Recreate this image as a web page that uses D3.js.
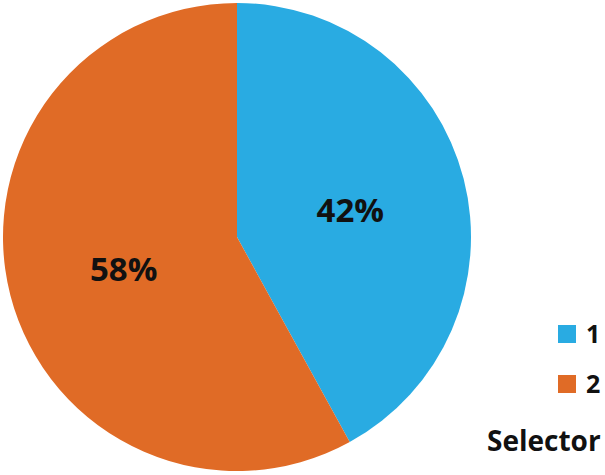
<!DOCTYPE html>
<html>
<head>
<meta charset="utf-8">
<script src="https://cdn.jsdelivr.net/npm/d3@7"></script>
<style>
  body { margin: 0; background: #fff; }
  text { font-family: "Open Sans", "DejaVu Sans", sans-serif; font-weight: bold; fill: #111; }
</style>
</head>
<body>
<svg id="chart" width="605" height="475"></svg>
<script>
// slice data
var categories = ["1", "2"];
var shares = [42, 58];
var colors = ["#29ABE2", "#E06B26"];
var legendTitle = "Selector";

var svg = d3.select("#chart");
var cx = 237, cy = 237, radius = 234;

var pie = d3.pie().sort(null).value(function(d) { return d; });
var arc = d3.arc().innerRadius(0).outerRadius(radius);
var color = d3.scaleOrdinal().domain(categories).range(colors);

var g = svg.append("g").attr("transform", "translate(" + cx + "," + cy + ")");
var slices = pie(shares);

g.selectAll("path")
    .data(slices)
    .enter().append("path")
    .attr("d", arc)
    .attr("fill", function(d, i) { return color(categories[i]); });

g.selectAll("text.pct")
    .data(slices)
    .enter().append("text")
    .attr("class", "pct")
    .attr("transform", function(d) {
        var c = arc.centroid(d);
        return "translate(" + c[0] + "," + (c[1] + 3) + ")";
    })
    .attr("text-anchor", "middle")
    .attr("dy", "0.35em")
    .style("font-size", "33px")
    .text(function(d) { return d.value + "%"; });

// legend
var legend = svg.append("g");
var rows = legend.selectAll("g")
    .data(categories)
    .enter().append("g")
    .attr("transform", function(d, i) { return "translate(558," + (325 + i * 50) + ")"; });

rows.append("rect")
    .attr("width", 18)
    .attr("height", 18)
    .attr("fill", function(d) { return color(d); });

rows.append("text")
    .attr("x", 28)
    .attr("y", 9)
    .attr("dy", "0.36em")
    .style("font-size", "25px")
    .text(function(d) { return d; });

legend.append("text")
    .attr("x", 487)
    .attr("y", 451)
    .style("font-size", "28px")
    .text(legendTitle);
</script>
</body>
</html>
